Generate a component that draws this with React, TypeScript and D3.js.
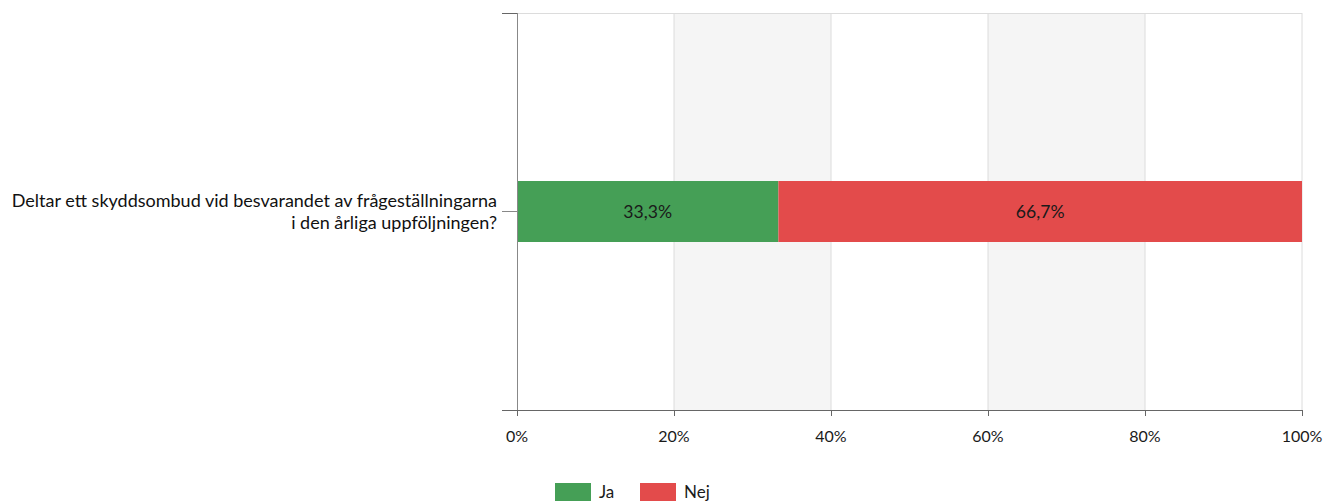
import React from "react";
import * as d3 from "d3";

const categories = ["Deltar ett skyddsombud vid besvarandet av frågeställningarna|i den årliga uppföljningen?"];
const seriesNames = ["Ja", "Nej"];
const seriesValues = [[33.3], [66.7]];
const seriesColors = ["#459f56", "#e34b4b"];
const xTicks = [0, 20, 40, 60, 80, 100];

const W = 1326, H = 502;
const M = { left: 517, right: 1302, top: 13, bottom: 410 };
const FONT = "Lato, 'Open Sans', sans-serif";

export default function App() {
  const x = d3.scaleLinear().domain([0, 100]).range([M.left, M.right]);
  const y = d3.scaleBand().domain(categories).range([M.top, M.bottom]).paddingInner(0.2).paddingOuter(0.3475);
  const bandH = 61;
  const stack = categories.map((c, ci) => {
    let acc = 0;
    return seriesNames.map((s, si) => {
      const v = seriesValues[si][ci];
      const r = { s, si, x0: acc, x1: acc + v, v };
      acc += v;
      return r;
    });
  });
  const fmt = (v: number) => v.toFixed(1).replace(".", ",") + "%";
  return (
    <svg width={W} height={H} style={{ position: "absolute", left: 0, top: 0, fontFamily: FONT }}>
      <rect width={W} height={H} fill="#fff" />
      {xTicks.slice(0, -1).map((t, i) =>
        i % 2 === 1 ? (
          <rect key={"b" + t} x={x(t)} y={M.top} width={x(xTicks[i + 1]) - x(t)} height={M.bottom - M.top} fill="#f5f5f5" />
        ) : null
      )}
      {xTicks.slice(1).map((t) => (
        <line key={"g" + t} x1={x(t)} x2={x(t)} y1={M.top} y2={M.bottom} stroke="#dcdcdc" strokeWidth={1} />
      ))}
      <line x1={M.left} x2={M.right} y1={M.top + 0.5} y2={M.top + 0.5} stroke="#dcdcdc" />
      {categories.map((c, ci) => {
        const cy = (y(c) as number) + y.bandwidth() / 2;
        return (
          <g key={c}>
            {stack[ci].map((r) => (
              <g key={r.s}>
                <rect x={x(r.x0)} y={cy - bandH / 2} width={x(r.x1) - x(r.x0)} height={bandH} fill={seriesColors[r.si]} />
                <text x={(x(r.x0) + x(r.x1)) / 2} y={cy} dy="0.35em" textAnchor="middle" fontSize={17.6} fill="#1a1a1a">
                  {fmt(r.v)}
                </text>
              </g>
            ))}
            {c.split("|").map((line, li, arr) => (
              <text key={li} x={M.left - 20} y={cy + (li - (arr.length - 1) / 2) * 22} dy="0.35em" textAnchor="end" fontSize={18} fill="#111">
                {line}
              </text>
            ))}
            <line x1={M.left - 15} x2={M.left} y1={cy} y2={cy} stroke="#888" />
          </g>
        );
      })}
      <line x1={M.left - 15} x2={M.left} y1={M.top + 0.5} y2={M.top + 0.5} stroke="#666" />
      <line x1={M.left + 0.5} x2={M.left + 0.5} y1={M.top} y2={M.bottom} stroke="#888" />
      <line x1={M.left - 15} x2={M.right} y1={M.bottom + 0.5} y2={M.bottom + 0.5} stroke="#666" />
      {xTicks.map((t) => (
        <g key={"t" + t}>
          <line x1={x(t) + 0.5} x2={x(t) + 0.5} y1={M.bottom} y2={M.bottom + 6} stroke="#666" />
          <text x={x(t)} y={M.bottom + 26} dy="0.35em" textAnchor="middle" fontSize={16} fill="#1a1a1a">
            {t + "%"}
          </text>
        </g>
      ))}
      {seriesNames.map((s, i) => {
        const lx = 555 + i * 85;
        return (
          <g key={s}>
            <rect x={lx} y={483} width={36} height={18} fill={seriesColors[i]} />
            <text x={lx + 44} y={492} dy="0.35em" fontSize={17} fill="#1a1a1a">{s}</text>
          </g>
        );
      })}
    </svg>
  );
}
